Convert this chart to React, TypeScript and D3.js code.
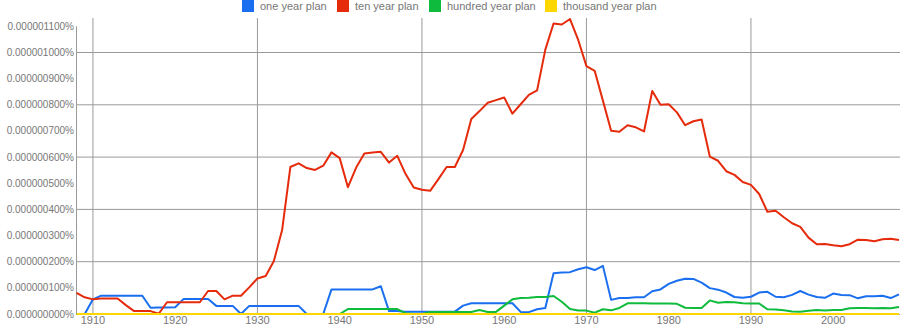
import React from "react";
import * as d3 from "d3";

const years: number[] = d3.range(1908, 2009);

const seriesNames = ["one year plan", "ten year plan", "hundred year plan", "thousand year plan"];
const seriesColors = ["#1a6ff0", "#e52b0c", "#0fbb3c", "#ffd700"];

// values in units of 0.000000001 %
const oneYearPlan = [
  0, 0, 56, 70, 70, 70, 70, 70, 70, 24,
  25, 25, 26, 57, 57, 57, 57, 31, 31, 31,
  0, 31, 31, 31, 31, 31, 31, 31, 0, 0,
  0, 94, 94, 94, 94, 94, 94, 106, 11, 11,
  9, 9, 9, 9, 9, 9, 9, 32, 41, 41,
  41, 41, 41, 41, 8, 7, 18, 23, 156, 159,
  160, 171, 179, 168, 184, 54, 61, 61, 64, 64,
  87, 94, 115, 127, 135, 134, 120, 99, 93, 82,
  65, 62, 66, 82, 85, 66, 64, 73, 88, 74,
  65, 62, 78, 73, 72, 60, 68, 68, 70, 61,
  75,
];

const tenYearPlan = [
  81, 64, 56, 59, 59, 59, 34, 11, 11, 11,
  1, 45, 45, 45, 45, 45, 88, 88, 56, 70,
  70, 102, 136, 145, 203, 321, 562, 576, 558, 551,
  567, 618, 596, 485, 560, 614, 618, 620, 579, 605,
  536, 484, 475, 471, 516, 562, 562, 627, 746, 776,
  808, 818, 828, 766, 802, 838, 855, 1011, 1111, 1107,
  1128, 1048, 948, 930, 816, 701, 697, 722, 714, 698,
  853, 800, 802, 771, 722, 737, 744, 602, 586, 546,
  532, 505, 494, 459, 391, 395, 370, 347, 333, 292,
  267, 268, 263, 259, 267, 284, 283, 278, 286, 288,
  283,
];

const hundredYearPlan = [
  0, 0, 0, 0, 0, 0, 0, 0, 0, 0,
  0, 0, 0, 0, 0, 0, 0, 0, 0, 0,
  0, 0, 0, 0, 0, 0, 0, 0, 0, 0,
  0, 0, 0, 19, 19, 19, 19, 19, 19, 19,
  3, 0, 0, 8, 8, 8, 8, 8, 8, 15,
  8, 8, 32, 56, 61, 62, 65, 65, 69, 47,
  19, 13, 13, 5, 18, 14, 23, 41, 41, 41,
  40, 40, 40, 39, 24, 23, 23, 52, 43, 46,
  45, 41, 40, 40, 18, 17, 14, 10, 9, 12,
  15, 13, 15, 15, 22, 23, 23, 22, 23, 22,
  27,
];

const thousandYearPlan = [
  0, 0, 0, 0, 0, 0, 0, 0, 0, 0,
  0, 0, 0, 0, 0, 0, 0, 0, 0, 0,
  0, 0, 0, 0, 0, 0, 0, 0, 0, 0,
  0, 0, 0, 0, 0, 0, 0, 0, 0, 0,
  0, 0, 0, 0, 0, 0, 0, 0, 0, 0,
  0, 0, 0, 0, 0, 0, 0, 0, 0, 0,
  0, 0, 0, 0, 0, 0, 0, 0, 0, 0,
  0, 0, 0, 0, 0, 0, 0, 0, 0, 0,
  0, 0, 0, 0, 0, 0, 0, 0, 0, 0,
  0, 0, 0, 0, 0, 0, 0, 0, 0, 0,
  0,
];

const allSeries = [oneYearPlan, tenYearPlan, hundredYearPlan, thousandYearPlan];

const yTicks = [0, 100, 200, 300, 400, 500, 600, 700, 800, 900, 1000, 1100];
const yGridTicks = [200, 400, 600, 800, 1000];
const xTickLabels = [1910, 1920, 1930, 1940, 1950, 1960, 1970, 1980, 1990, 2000];
const xGridTicks = [1910, 1930, 1950, 1970, 1990];

const W = 900;
const H = 330;
const FONT = "'Liberation Sans', Arial, sans-serif";
const legendX = [242, 337, 429, 545];

export default function App() {
  const x = d3.scaleLinear().domain([1908, 2008]).range([76.5, 899]);
  const y = d3.scaleLinear().domain([0, 1100]).range([314, 26.35]);
  const line = d3
    .line<number>()
    .x((_, i) => x(years[i]))
    .y((d) => y(d));

  const fmt = (v: number) => (v * 1e-9).toFixed(9) + "%";

  return (
    <svg
      width={W}
      height={H}
      style={{ position: "absolute", left: 0, top: 0, background: "#fff" }}
      fontFamily={FONT}
    >
      {/* legend */}
      {seriesNames.map((name, i) => (
        <g key={name}>
          <rect x={legendX[i]} y={0} width={12} height={12} fill={seriesColors[i]} />
          <text x={legendX[i] + 18} y={10} fontSize={11} fill="#777">
            {name}
          </text>
        </g>
      ))}

      {/* horizontal grid */}
      {yGridTicks.map((t) => (
        <line key={"hg" + t} x1={76.5} x2={W} y1={y(t)} y2={y(t)} stroke="#999" strokeWidth={1} />
      ))}
      {/* vertical grid */}
      {xGridTicks.map((t) => (
        <line key={"vg" + t} x1={x(t)} x2={x(t)} y1={18} y2={314} stroke="#999" strokeWidth={1} />
      ))}
      {/* axes */}
      <line x1={76.5} x2={76.5} y1={y(1100)} y2={314.5} stroke="#999" strokeWidth={1} />
      <line x1={76.5} x2={W} y1={314.5} y2={314.5} stroke="#999" strokeWidth={1} />

      {/* y labels */}
      {yTicks.map((t) => (
        <text key={"yl" + t} x={74} y={y(t)} dy="0.35em" textAnchor="end" fontSize={10} fill="#777">
          {fmt(t)}
        </text>
      ))}
      {/* x labels */}
      {xTickLabels.map((t) => (
        <text key={"xl" + t} x={x(t)} y={324} textAnchor="middle" fontSize={11} fill="#777">
          {t}
        </text>
      ))}

      {/* series */}
      {allSeries.map((s, i) => (
        <path
          key={"s" + i}
          d={line(s) || ""}
          fill="none"
          stroke={seriesColors[i]}
          strokeWidth={2}
          strokeLinejoin="round"
        />
      ))}
    </svg>
  );
}
